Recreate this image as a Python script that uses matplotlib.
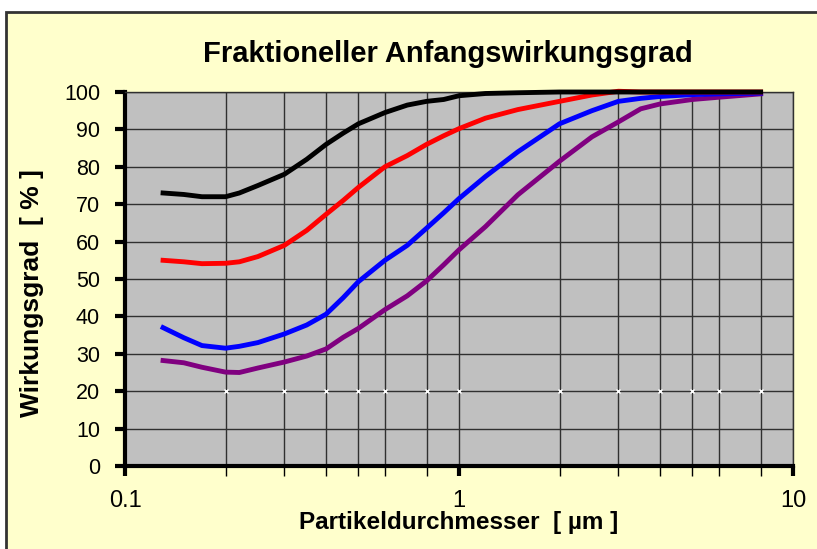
import matplotlib
matplotlib.use("Agg")
import matplotlib.pyplot as plt
from matplotlib.patches import Rectangle
from matplotlib.ticker import FixedLocator, NullFormatter

# === Données ===
diametre = [0.13, 0.15, 0.17, 0.2, 0.22, 0.25, 0.3, 0.35, 0.4, 0.45, 0.5, 0.6, 0.7,
            0.8, 0.9, 1.0, 1.2, 1.5, 2.0, 2.5, 3.0, 3.5, 4.0, 5.0, 6.0, 8.0]

courbe_noire = [73, 72.6, 72, 72, 73, 75, 78, 82, 86, 89, 91.5, 94.5, 96.5,
                97.5, 98, 99, 99.6, 99.8, 100, 100, 100, 100, 100, 100, 100, 100]
courbe_rouge = [55, 54.6, 54.1, 54.2, 54.6, 56, 59, 63, 67.3, 71, 74.5, 80, 83,
                86, 88.3, 90.2, 93, 95.3, 97.5, 99.2, 100.2, 100, 100, 100, 100, 100]
courbe_bleue = [37, 34.3, 32.2, 31.5, 32, 33, 35.3, 37.7, 40.6, 45, 49.3, 55, 59,
                63.6, 67.7, 71.5, 77.4, 84, 91.5, 95, 97.5, 98.3, 98.8, 99.3, 99.5, 99.7]
courbe_violette = [28.2, 27.6, 26.4, 25.1, 25, 26.2, 27.8, 29.4, 31.3, 34.4, 36.8, 41.8, 45.5,
                   49.5, 53.8, 57.8, 64, 72.5, 81.5, 88, 92, 95.5, 96.8, 98, 98.6, 99.5]

# petits repères blancs à 20 %
reperes_x = [0.2, 0.3, 0.4, 0.5, 0.6, 0.8, 1, 2, 3, 4, 5, 6, 8]
reperes_y = [20] * len(reperes_x)

graduations_mineures = [0.2, 0.3, 0.4, 0.5, 0.6, 0.8, 2, 3, 4, 5, 6, 8]
graduations_majeures = [0.1, 1, 10]
etiquettes_x = ["0.1", "1", "10"]

plt.rcParams['font.family'] = ['Liberation Sans', 'DejaVu Sans']

# === Figure ===
fig = plt.figure(figsize=(8.17, 5.49), dpi=100)
fig.patch.set_facecolor("white")
W, H = 817, 549
fond = Rectangle((6 / W, -0.05), 1.05, (H - 12) / H + 0.05, transform=fig.transFigure,
                 facecolor="#FFFFCC", edgecolor="#333333", linewidth=2, zorder=-10)
fig.patches.append(fond)

ax = fig.add_axes([125 / W, 1 - 466 / H, (793 - 125) / W, (466 - 92) / H])
ax.set_zorder(1)
ax.set_facecolor("#C0C0C0")

ax.plot(diametre, courbe_violette, color="#800080", linewidth=3.5, clip_on=False, zorder=3)
ax.plot(diametre, courbe_bleue, color="#0000FF", linewidth=3.5, clip_on=False, zorder=3)
ax.plot(diametre, courbe_rouge, color="#FF0000", linewidth=3.5, clip_on=False, zorder=3)
ax.plot(diametre, courbe_noire, color="black", linewidth=3.5, clip_on=False, zorder=3)
ax.plot(reperes_x, reperes_y, linestyle="none", marker="x", markersize=3,
        markeredgewidth=1, color="white", zorder=3)

ax.set_xscale("log")
ax.set_xlim(0.1, 10)
ax.set_ylim(0, 100)
ax.xaxis.set_major_locator(FixedLocator(graduations_majeures))
ax.set_xticklabels(etiquettes_x, fontsize=17)
ax.xaxis.set_minor_locator(FixedLocator(graduations_mineures))
ax.xaxis.set_minor_formatter(NullFormatter())
ax.set_yticks(range(0, 101, 10))

ax.grid(True, which="both", axis="x", color="#303030", linewidth=1)
ax.grid(True, which="major", axis="y", color="#303030", linewidth=1)
ax.set_axisbelow(True)

for cote in ["left", "bottom"]:
    ax.spines[cote].set_linewidth(3)
for cote in ["top", "right"]:
    ax.spines[cote].set_linewidth(1)
    ax.spines[cote].set_color("#303030")

ax.tick_params(axis="y", which="major", length=7, width=3, labelsize=15.5, pad=11)
ax.tick_params(axis="x", which="major", length=7, width=3, labelsize=17, pad=10)
ax.tick_params(axis="x", which="minor", length=7, width=1)

fig.text(448 / W, 1 - 62 / H, "Fraktioneller Anfangswirkungsgrad", fontsize=21,
         fontweight="bold", ha="center", va="baseline")
fig.text(459 / W, 1 - 529 / H, "Partikeldurchmesser  [ µm ]", fontsize=17.5,
         fontweight="bold", ha="center", va="baseline")
fig.text(32 / W, 1 - 293 / H, "Wirkungsgrad  [ % ]", fontsize=19, fontweight="bold",
         rotation=90, ha="center", va="center")

fig.savefig("out.png", dpi=100, facecolor=fig.get_facecolor())
